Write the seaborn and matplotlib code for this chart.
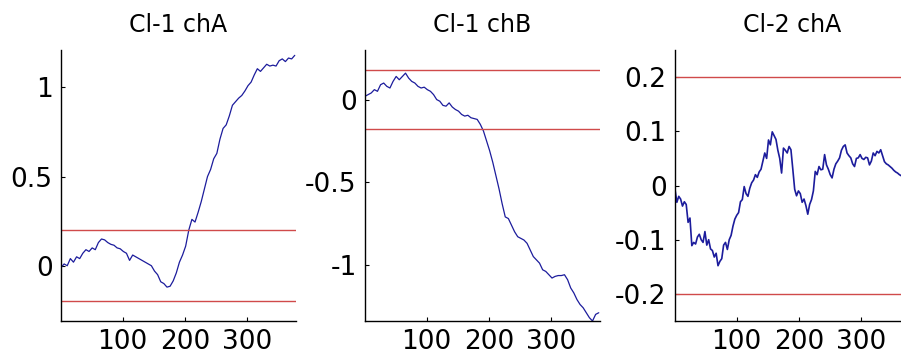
import numpy as np
import pandas as pd
import matplotlib
matplotlib.use("Agg")
import matplotlib.pyplot as plt
import seaborn as sns

# ---- data ----
titles = ["Cl-1 chA", "Cl-1 chB", "Cl-2 chA"]
idx_step5 = list(range(1, 377, 5))
idx_step3 = list(range(1, 377, 3))

cl1_chA = [-0.01, 0.01, 0.00, 0.04, 0.02, 0.05, 0.04, 0.07, 0.09, 0.08,
           0.10, 0.09, 0.13, 0.15, 0.145, 0.13, 0.12, 0.115, 0.10, 0.095,
           0.08, 0.07, 0.03, 0.06, 0.05, 0.04, 0.03, 0.02, 0.01, 0.00,
           -0.03, -0.05, -0.09, -0.10, -0.12, -0.115, -0.085, -0.04, 0.02, 0.06,
           0.11, 0.20, 0.26, 0.245, 0.30, 0.36, 0.43, 0.50, 0.54, 0.60,
           0.63, 0.71, 0.77, 0.79, 0.84, 0.90, 0.92, 0.94, 0.955, 0.98,
           1.01, 1.03, 1.07, 1.105, 1.09, 1.11, 1.13, 1.12, 1.125, 1.12,
           1.15, 1.16, 1.145, 1.165, 1.16, 1.18]

cl1_chB = [0.02, 0.03, 0.04, 0.06, 0.05, 0.09, 0.10, 0.08, 0.07, 0.11,
           0.14, 0.12, 0.14, 0.16, 0.13, 0.11, 0.10, 0.08, 0.07, 0.075,
           0.06, 0.05, 0.03, 0.00, -0.01, -0.035, -0.04, -0.02, -0.045, -0.06,
           -0.07, -0.09, -0.10, -0.095, -0.11, -0.115, -0.12, -0.15, -0.19, -0.25,
           -0.31, -0.38, -0.46, -0.54, -0.63, -0.71, -0.72, -0.76, -0.80, -0.83,
           -0.84, -0.85, -0.87, -0.91, -0.95, -0.97, -0.99, -1.03, -1.04, -1.06,
           -1.08, -1.07, -1.065, -1.065, -1.06, -1.09, -1.14, -1.17, -1.21, -1.24,
           -1.26, -1.29, -1.32, -1.34, -1.30, -1.29]

cl2_chA = [-0.007, -0.031, -0.02, -0.025, -0.038, -0.03, -0.035, -0.068, -0.06, -0.111,
           -0.105, -0.108, -0.095, -0.09, -0.1, -0.105, -0.085, -0.11, -0.1, -0.117,
           -0.12, -0.132, -0.125, -0.148, -0.14, -0.135, -0.11, -0.105, -0.118, -0.1,
           -0.092, -0.075, -0.062, -0.055, -0.05, -0.03, -0.026, -0.002, -0.015, -0.02,
           -0.005, 0.005, 0.01, 0.02, 0.015, 0.025, 0.03, 0.045, 0.06, 0.05,
           0.084, 0.075, 0.099, 0.092, 0.085, 0.065, 0.05, 0.023, 0.069, 0.065,
           0.06, 0.072, 0.066, 0.03, -0.007, -0.019, -0.01, -0.015, -0.031, -0.025,
           -0.037, -0.053, -0.035, -0.026, -0.01, 0.026, 0.02, 0.035, 0.029, 0.03,
           0.057, 0.038, 0.03, 0.02, 0.014, 0.03, 0.04, 0.045, 0.051, 0.065,
           0.072, 0.075, 0.06, 0.055, 0.051, 0.04, 0.035, 0.05, 0.051, 0.057,
           0.05, 0.048, 0.052, 0.051, 0.038, 0.045, 0.06, 0.055, 0.063, 0.06,
           0.066, 0.055, 0.044, 0.04, 0.038, 0.035, 0.032, 0.028, 0.025, 0.023,
           0.02, 0.018, 0.015, 0.012, 0.01, 0.008]

xs = [idx_step5, idx_step5, idx_step3]
series = [cl1_chA, cl1_chB, cl2_chA]
thresholds = [0.2, 0.18, 0.2]
ylims = [(-0.31, 1.21), (-1.34, 0.30), (-0.25, 0.25)]
yticks = [[0, 0.5, 1], [-1, -0.5, 0], [-0.2, -0.1, 0, 0.1, 0.2]]
yticklabels = [["0", "0.5", "1"], ["-1", "-0.5", "0"], ["-0.2", "-0.1", "0", "0.1", "0.2"]]
xticks = [100, 200, 300]
line_widths = [0.9, 0.9, 1.2]

sns.set_theme(style="white")
plt.rcParams["font.family"] = ["DejaVu Sans"]
plt.rcParams["xtick.direction"] = "in"
plt.rcParams["ytick.direction"] = "in"

fig = plt.figure(figsize=(9.01, 3.54), dpi=100)
lefts = [61, 365, 675]
W, H = 901.0, 354.0
for i in range(3):
    ax = fig.add_axes([lefts[i] / W, (H - 321) / H, 235 / W, (321 - 50) / H])
    df = pd.DataFrame({"x": xs[i], "y": series[i]})
    sns.lineplot(data=df, x="x", y="y", ax=ax, color="#1c1c9c", linewidth=line_widths[i])
    ax.axhline(thresholds[i], color="#d04a4a", linewidth=1.0)
    ax.axhline(-thresholds[i], color="#d04a4a", linewidth=1.0)
    ax.set_xlim(1, 378)
    ax.set_ylim(*ylims[i])
    ax.set_xticks(xticks)
    ax.set_xticklabels([str(t) for t in xticks])
    ax.set_yticks(yticks[i])
    ax.set_yticklabels(yticklabels[i])
    ax.set_xlabel("")
    ax.set_ylabel("")
    ax.set_title(titles[i], fontsize=17, pad=13, color="black")
    for s in ["top", "right"]:
        ax.spines[s].set_visible(False)
    for s in ["left", "bottom"]:
        ax.spines[s].set_color("black")
        ax.spines[s].set_linewidth(1.0)
    ax.tick_params(axis="both", which="major", length=3, width=0.8, color="black",
                   labelsize=19, labelcolor="black", pad=6, left=True, bottom=True)

fig.savefig("out.png", dpi=100, facecolor="white")
